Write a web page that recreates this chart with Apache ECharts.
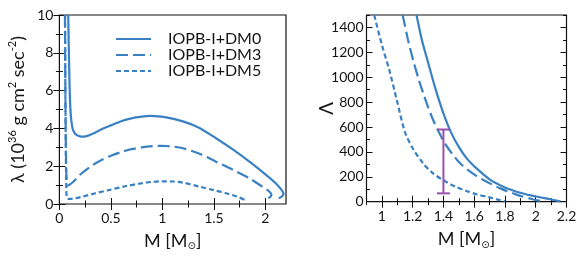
<!DOCTYPE html>
<html>
<head>
<meta charset="utf-8">
<script src="https://cdn.jsdelivr.net/npm/echarts@6/dist/echarts.min.js"></script>
<style>html,body{margin:0;padding:0;background:#fff;}#c{width:581px;height:263px;}</style>
</head>
<body>
<div id="c"></div>
<script>
// ---------- DATA ----------
const seriesNames = ['IOPB-I+DM0', 'IOPB-I+DM3', 'IOPB-I+DM5'];

// Left panel: lambda (10^36 g cm^2 s^-2) vs M
const lamDM0_M = [0.086, 0.09, 0.095, 0.1, 0.106, 0.115, 0.128, 0.145, 0.17, 0.2, 0.235, 0.28, 0.35, 0.4, 0.5, 0.6, 0.7, 0.8, 0.88, 0.96, 1.05, 1.2, 1.35, 1.52, 1.68, 1.845, 2.0, 2.1, 2.155, 2.175, 2.17, 2.15, 2.13];
const lamDM0_L = [10, 8.6, 7.2, 6.0, 5.1, 4.45, 4.0, 3.78, 3.64, 3.58, 3.57, 3.62, 3.78, 3.93, 4.16, 4.38, 4.53, 4.62, 4.66, 4.64, 4.57, 4.37, 4.05, 3.48, 2.9, 2.24, 1.57, 1.1, 0.76, 0.56, 0.45, 0.36, 0.3];

const lamDM3_M = [0.054, 0.058, 0.063, 0.068, 0.073, 0.08, 0.1, 0.14, 0.2, 0.3, 0.4, 0.5, 0.6, 0.7, 0.8, 0.9, 1.0, 1.1, 1.2, 1.36, 1.52, 1.68, 1.845, 1.99, 2.04, 2.058, 2.05, 2.02];
const lamDM3_L = [10, 6, 3, 1.5, 1.05, 0.97, 1.02, 1.2, 1.55, 1.97, 2.3, 2.55, 2.75, 2.9, 3.0, 3.06, 3.08, 3.04, 2.95, 2.66, 2.24, 1.82, 1.36, 0.85, 0.65, 0.5, 0.38, 0.3];

const lamDM5_M = [0.055, 0.058, 0.062, 0.066, 0.07, 0.08, 0.1, 0.15, 0.23, 0.35, 0.49, 0.65, 0.8, 0.9, 1.0, 1.1, 1.2, 1.36, 1.5, 1.62, 1.72, 1.8];
const lamDM5_L = [10, 6, 3, 1.2, 0.4, 0.28, 0.27, 0.3, 0.4, 0.57, 0.75, 0.95, 1.1, 1.17, 1.2, 1.19, 1.13, 0.92, 0.73, 0.57, 0.4, 0.22];

// Right panel: tidal deformability Lambda vs M
const tdDM0_M = [1.225, 1.26, 1.3, 1.35, 1.4, 1.45, 1.5, 1.55, 1.6, 1.7, 1.8, 1.9, 2.0, 2.1, 2.16];
const tdDM0_L = [1500, 1300, 1120, 900, 710, 555, 440, 350, 285, 180, 115, 72, 42, 18, 3];

const tdDM3_M = [1.135, 1.17, 1.204, 1.24, 1.27, 1.3, 1.334, 1.37, 1.41, 1.46, 1.51, 1.58, 1.66, 1.77, 1.88, 1.98, 2.05];
const tdDM3_L = [1500, 1300, 1134, 980, 867, 760, 654, 560, 467, 380, 307, 235, 174, 107, 55, 20, 1];

const tdDM5_M = [0.95, 1.0, 1.05, 1.1, 1.15, 1.2, 1.27, 1.33, 1.4, 1.48, 1.55, 1.62, 1.7, 1.76, 1.8];
const tdDM5_L = [1500, 1260, 1050, 800, 560, 430, 305, 230, 172, 120, 86, 58, 35, 15, 2];

// Constraint error bar (M, low, high)
const errM = [1.4];
const errLow = [67];
const errHigh = [580];

// Ticks
const leftXMajor = [0, 0.5, 1, 1.5, 2];
const leftXMinor = [0.25, 0.75, 1.25, 1.75];
const leftYMajor = [0, 2, 4, 6, 8, 10];
const leftYMinor = [1, 3, 5, 7, 9];
const rightXMajor = [1, 1.2, 1.4, 1.6, 1.8, 2, 2.2];
const rightXMinor = [0.9, 1.1, 1.3, 1.5, 1.7, 1.9, 2.1];
const rightYMajor = [0, 200, 400, 600, 800, 1000, 1200, 1400];
const rightYMinor = [100, 300, 500, 700, 900, 1100, 1300, 1500];

// ---------- CHART ----------
const FONT = 'Lato';
const TXT = '#151515';
const BLUE = '#3a81c3';
const PURPLE = '#9d4fae';
const zip = (a, b) => a.map((v, i) => [v, b[i]]);

function axesFor(dim, gi, min, max, majors, minors, label) {
  const sides = dim === 'x' ? ['bottom', 'top'] : ['left', 'right'];
  const out = [];
  sides.forEach((pos, si) => {
    [[majors, 6], [minors, 3.5]].forEach(([vals, len], ti) => {
      const ax = {
        type: 'value', gridIndex: gi, position: pos, min: min, max: max,
        axisLine: {show: false}, splitLine: {show: false},
        axisTick: {show: true, inside: true, length: len, customValues: vals, lineStyle: {color: '#111', width: 1}},
        axisLabel: {show: false}
      };
      if (si === 0 && ti === 0 && label) {
        ax.axisLabel = Object.assign({show: true, customValues: majors, fontFamily: FONT, fontSize: 14, color: TXT,
          formatter: v => String(v)}, label.axisLabel);
        Object.assign(ax, label.extra);
      }
      out.push(ax);
    });
  });
  return out;
}

const mName = {
  fontFamily: FONT, fontSize: 18, color: TXT, lineHeight: 22,
  rich: {sub: {fontFamily: 'DejaVu Sans', fontSize: 10, color: TXT, verticalAlign: 'bottom', lineHeight: 12}}
};

const xAxes = [].concat(
  axesFor('x', 0, 0, 2.2, leftXMajor, leftXMinor, {
    axisLabel: {margin: 7},
    extra: {name: 'M [M{sub|⊙}]', nameLocation: 'middle', nameGap: 20, nameTextStyle: mName}
  }),
  axesFor('x', 1, 0.9, 2.2, rightXMajor, rightXMinor, {
    axisLabel: {margin: 8},
    extra: {name: 'M [M{sub|⊙}]', nameLocation: 'middle', nameGap: 22, nameTextStyle: mName}
  })
);
const yAxes = [].concat(
  axesFor('y', 0, 0, 10, leftYMajor, leftYMinor, {
    axisLabel: {margin: 6},
    extra: {name: 'λ (10{sup|36} g cm{sup|2} sec{sup|-2})', nameLocation: 'middle', nameGap: 30, nameMoveOverlap: false,
      nameTextStyle: {fontFamily: FONT, fontSize: 18, color: TXT, lineHeight: 22,
        rich: {sup: {fontFamily: FONT, fontSize: 11, color: TXT, verticalAlign: 'top', lineHeight: 12}}}}
  }),
  axesFor('y', 1, 0, 1500, rightYMajor, rightYMinor, {
    axisLabel: {margin: 3},
    extra: {name: 'Λ', nameLocation: 'middle', nameGap: 30, nameMoveOverlap: false,
      nameTextStyle: {fontFamily: FONT, fontSize: 19, color: TXT}}
  })
);
// primary axis indices: grid0 x=0, grid1 x=4; grid0 y=0, grid1 y=4

function lineSeries(name, data, xi, yi, type) {
  return {
    name: name, type: 'line', xAxisIndex: xi, yAxisIndex: yi, data: data,
    showSymbol: false, symbol: 'none', smooth: 0.3, clip: true,
    lineStyle: {color: BLUE, width: 2.2, type: type, cap: 'butt'},
    itemStyle: {color: BLUE}, z: 3
  };
}
const dash3 = [12, 5];
const dash5 = [5, 3];

const option = {
  animation: false,
  backgroundColor: '#fff',
  grid: [
    {left: 59.4, top: 15, width: 226.6, height: 189, show: true, borderColor: '#111', borderWidth: 1.2, backgroundColor: 'transparent', outerBoundsMode: 'none', containLabel: false},
    {left: 366.5, top: 15, width: 200, height: 186.7, show: true, borderColor: '#111', borderWidth: 1.2, backgroundColor: 'transparent', outerBoundsMode: 'none', containLabel: false}
  ],
  xAxis: xAxes,
  yAxis: yAxes,
  legend: {
    data: seriesNames, orient: 'vertical', left: 115, top: 31, padding: 0,
    itemWidth: 35, itemHeight: 14, itemGap: 0,
    itemStyle: {opacity: 0},
    textStyle: {fontFamily: FONT, fontSize: 16, color: TXT, lineHeight: 16, padding: [0, 0, 0, 12]},
    selectedMode: false
  },
  series: [
    lineSeries(seriesNames[0], zip(lamDM0_M, lamDM0_L), 0, 0, 'solid'),
    lineSeries(seriesNames[1], zip(lamDM3_M, lamDM3_L), 0, 0, dash3),
    lineSeries(seriesNames[2], zip(lamDM5_M, lamDM5_L), 0, 0, dash5),
    lineSeries(seriesNames[0], zip(tdDM0_M, tdDM0_L), 4, 4, 'solid'),
    lineSeries(seriesNames[1], zip(tdDM3_M, tdDM3_L), 4, 4, dash3),
    lineSeries(seriesNames[2], zip(tdDM5_M, tdDM5_L), 4, 4, dash5),
    {
      type: 'custom', xAxisIndex: 4, yAxisIndex: 4, z: 5,
      data: errM.map((m, i) => [m, errLow[i], errHigh[i]]),
      encode: {x: 0, y: [1, 2]},
      renderItem: function (params, api) {
        const x = api.value(0);
        const lo = api.coord([x, api.value(1)]);
        const hi = api.coord([x, api.value(2)]);
        const hw = 6.5;
        const st = {stroke: PURPLE, lineWidth: 2};
        return {type: 'group', children: [
          {type: 'line', shape: {x1: lo[0], y1: lo[1], x2: hi[0], y2: hi[1]}, style: st},
          {type: 'line', shape: {x1: lo[0] - hw, y1: lo[1], x2: lo[0] + hw, y2: lo[1]}, style: st},
          {type: 'line', shape: {x1: hi[0] - hw, y1: hi[1], x2: hi[0] + hw, y2: hi[1]}, style: st}
        ]};
      }
    }
  ]
};

const chart = echarts.init(document.getElementById('c'), null, {renderer: 'canvas'});
chart.setOption(option);
</script>
</body>
</html>
